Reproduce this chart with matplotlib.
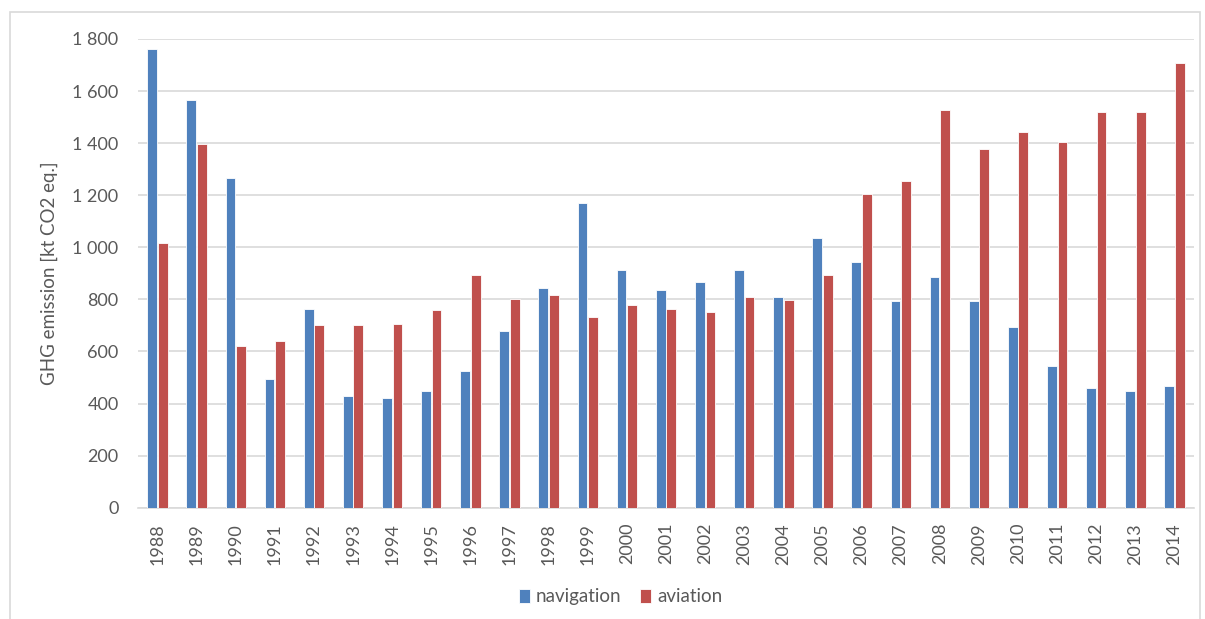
import numpy as np
import matplotlib.pyplot as plt
from matplotlib.patches import Rectangle
from matplotlib.ticker import FuncFormatter

plt.rcParams['font.family'] = ['Lato', 'DejaVu Sans']

# GHG emissions, kt CO2 eq.
years = [str(y) for y in range(1988, 2015)]
navigation = [1763, 1564, 1267, 493, 763, 428, 421, 448, 525, 680, 843, 1171, 913, 835,
              867, 913, 809, 1035, 945, 795, 886, 795, 693, 543, 460, 448, 467]
aviation = [1015, 1397, 622, 641, 700, 700, 705, 758, 894, 803, 816, 732, 777, 763,
            752, 809, 796, 892, 1203, 1255, 1527, 1378, 1442, 1403, 1520, 1520, 1707]

blue = '#4F81BD'
red = '#C0504D'
grid_col = '#D9D9D9'
text_col = '#595959'

fig = plt.figure(figsize=(12.05, 6.19), dpi=100)
ax = fig.add_axes([0.1145, 0.1798, 0.8764, 0.7572])

x = np.arange(len(years))
w = 0.25
ax.bar(x - 0.135, navigation, width=w, color=blue, edgecolor='white', linewidth=0.6,
       label='navigation', zorder=3)
ax.bar(x + 0.135, aviation, width=w, color=red, edgecolor='white', linewidth=0.6,
       label='aviation', zorder=3)

ax.set_xlim(-0.5, len(years) - 0.5)
ax.set_ylim(0, 1800)
ax.set_yticks(range(0, 1801, 200))
ax.yaxis.set_major_formatter(FuncFormatter(lambda v, p: f'{int(v):,}'.replace(',', ' ')))
ax.set_xticks(x)
ax.set_xticklabels(years, rotation=90)
ax.tick_params(axis='both', length=0, labelsize=13, colors=text_col)
ax.tick_params(axis='y', pad=14)
ax.tick_params(axis='x', pad=11)
ax.grid(axis='y', color=grid_col, linewidth=1.2, zorder=0)
for s in ['top', 'right', 'left']:
    ax.spines[s].set_visible(False)
ax.spines['bottom'].set_color(grid_col)
ax.spines['bottom'].set_linewidth(1.2)

ax.set_ylabel('GHG emission [kt CO2 eq.]', fontsize=13.5, color=text_col, labelpad=10)

leg = fig.legend(loc='center', bbox_to_anchor=(0.515, 0.036), ncol=2, frameon=False,
                 fontsize=13.5, handlelength=0.6, handleheight=0.8, handletextpad=0.3,
                 columnspacing=1.0)
for t in leg.get_texts():
    t.set_color(text_col)

# outer chart frame
fig.patches.append(Rectangle((0.008, -0.01), 0.988, 0.99, transform=fig.transFigure,
                             fill=False, edgecolor=grid_col, linewidth=1.2))

fig.savefig('out.png', dpi=100)
